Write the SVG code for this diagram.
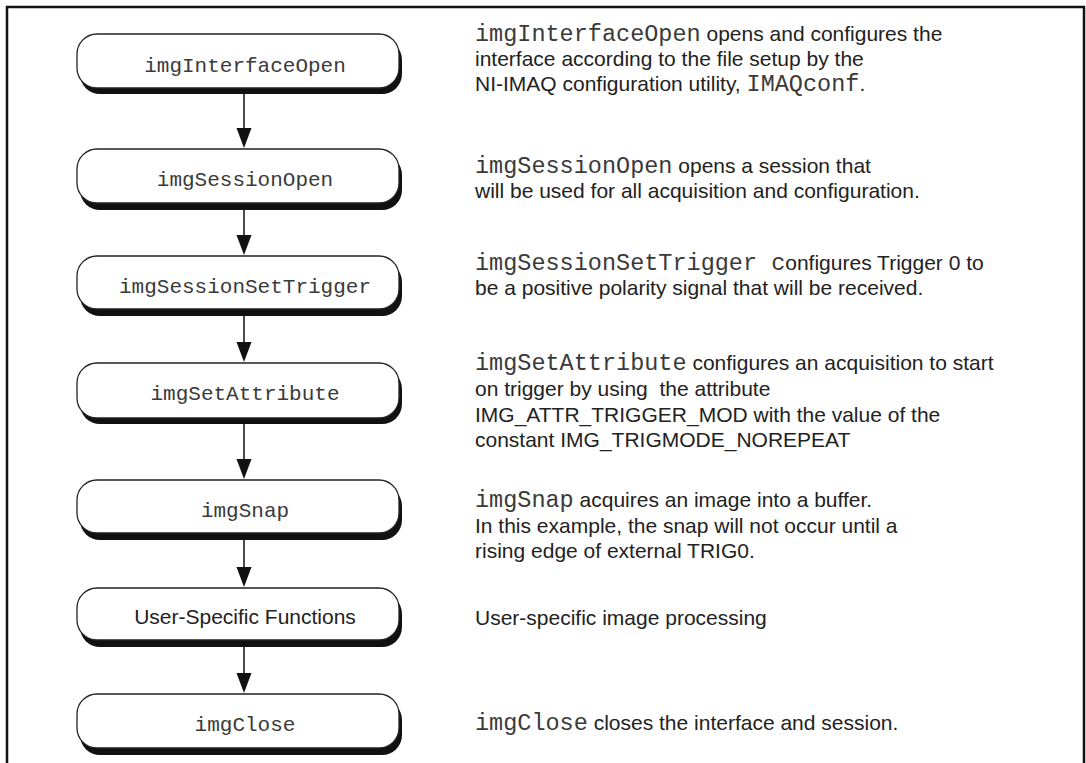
<svg xmlns="http://www.w3.org/2000/svg" width="1086" height="763" viewBox="0 0 1086 763">
<style>
.frame{fill:none;stroke:#111;stroke-width:2.5}
.box{fill:#fff;stroke:#222;stroke-width:1.3}
.shadow{fill:#111}
.bt{font-family:"Liberation Mono",monospace;font-size:21px;fill:#3a3a3a;text-anchor:middle}
.bs{font-family:"Liberation Sans",Arial,sans-serif;font-size:21px;fill:#222;text-anchor:middle}
.d{font-family:"Liberation Sans",Arial,sans-serif;font-size:21px;fill:#222;white-space:pre}
.m{font-family:"Liberation Mono",monospace;font-size:23.5px;fill:#3a3a3a}
.conn{stroke:#111;stroke-width:1.5;fill:none}
.ah{fill:#111}
</style>
<rect width="1086" height="763" fill="#fff"/>
<path class="frame" d="M7,764 V7 H1084 V764"/>

<g id="connectors">
<path class="conn" d="M244,94 V129"/><path class="ah" d="M236.5,128 H251.5 L244,148 Z"/>
<path class="conn" d="M244,210 V236"/><path class="ah" d="M236.5,235 H251.5 L244,255 Z"/>
<path class="conn" d="M244,316 V343"/><path class="ah" d="M236.5,342 H251.5 L244,362 Z"/>
<path class="conn" d="M244,424 V460"/><path class="ah" d="M236.5,459 H251.5 L244,479 Z"/>
<path class="conn" d="M244,540 V568"/><path class="ah" d="M236.5,567 H251.5 L244,587 Z"/>
<path class="conn" d="M244,647 V674"/><path class="ah" d="M236.5,673 H251.5 L244,693 Z"/>
</g>

<g id="n1">
<rect class="shadow" x="80" y="40" width="322" height="54" rx="20"/>
<rect class="box" x="77" y="34" width="322" height="54" rx="20"/>
<text class="bt" x="245" y="72">imgInterfaceOpen</text>
</g>
<g id="n2">
<rect class="shadow" x="80" y="155" width="322" height="55" rx="20"/>
<rect class="box" x="77" y="149" width="322" height="54" rx="20"/>
<text class="bt" x="245" y="186">imgSessionOpen</text>
</g>
<g id="n3">
<rect class="shadow" x="80" y="262" width="322" height="54" rx="20"/>
<rect class="box" x="77" y="256" width="322" height="53" rx="20"/>
<text class="bt" x="245" y="293">imgSessionSetTrigger</text>
</g>
<g id="n4">
<rect class="shadow" x="80" y="369" width="322" height="55" rx="20"/>
<rect class="box" x="77" y="363" width="322" height="55" rx="20"/>
<text class="bt" x="245" y="400">imgSetAttribute</text>
</g>
<g id="n5">
<rect class="shadow" x="80" y="486" width="322" height="54" rx="20"/>
<rect class="box" x="77" y="480" width="322" height="53" rx="20"/>
<text class="bt" x="245" y="517">imgSnap</text>
</g>
<g id="n6">
<rect class="shadow" x="80" y="594" width="322" height="53" rx="20"/>
<rect class="box" x="77" y="588" width="322" height="52" rx="20"/>
<text class="bs" x="245" y="624">User-Specific Functions</text>
</g>
<g id="n7">
<rect class="shadow" x="80" y="700" width="322" height="55" rx="20"/>
<rect class="box" x="77" y="694" width="322" height="54" rx="20"/>
<text class="bt" x="245" y="731">imgClose</text>
</g>

<g id="descriptions">
<text class="d" x="475" y="41"><tspan class="m">imgInterfaceOpen</tspan> opens and configures the</text>
<text class="d" x="475" y="66">interface according to the file setup by the</text>
<text class="d" x="475" y="91">NI-IMAQ configuration utility, <tspan class="m">IMAQconf</tspan>.</text>

<text class="d" x="475" y="173"><tspan class="m">imgSessionOpen</tspan> opens a session that</text>
<text class="d" x="475" y="198">will be used for all acquisition and configuration.</text>

<text class="d" x="475" y="270"><tspan class="m">imgSessionSetTrigger c</tspan>onfigures Trigger 0 to</text>
<text class="d" x="475" y="295">be a positive polarity signal that will be received.</text>

<text class="d" x="475" y="370"><tspan class="m">imgSetAttribute</tspan> configures an acquisition to start</text>
<text class="d" x="475" y="396">on trigger by using  the attribute</text>
<text class="d" x="475" y="422">IMG_ATTR_TRIGGER_MOD with the value of the</text>
<text class="d" x="475" y="447">constant IMG_TRIGMODE_NOREPEAT</text>

<text class="d" x="475" y="507"><tspan class="m">imgSnap</tspan> acquires an image into a buffer.</text>
<text class="d" x="475" y="533">In this example, the snap will not occur until a</text>
<text class="d" x="475" y="558">rising edge of external TRIG0.</text>

<text class="d" x="475" y="625">User-specific image processing</text>

<text class="d" x="475" y="730"><tspan class="m">imgClose</tspan> closes the interface and session.</text>
</g>
</svg>
